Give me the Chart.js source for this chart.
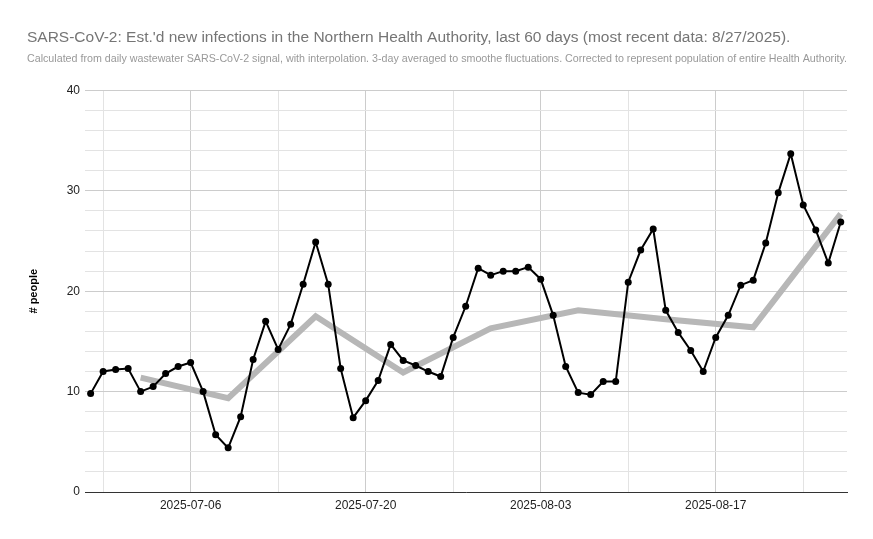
<!DOCTYPE html>
<html>
<head>
<meta charset="utf-8">
<script src="https://cdn.jsdelivr.net/npm/chart.js@4"></script>
<style>
  html, body { margin: 0; padding: 0; background: #fff; }
  #wrap { width: 873px; height: 539px; }
</style>
</head>
<body>
<div id="wrap"><canvas id="infectionsChart"></canvas></div>
<script>
// ===== DATA =====
// one entry per day, 2025-06-28 .. 2025-08-27
const dates = [
    '2025-06-28', '2025-06-29', '2025-06-30', '2025-07-01', '2025-07-02', '2025-07-03', '2025-07-04',
    '2025-07-05', '2025-07-06', '2025-07-07', '2025-07-08', '2025-07-09', '2025-07-10', '2025-07-11',
    '2025-07-12', '2025-07-13', '2025-07-14', '2025-07-15', '2025-07-16', '2025-07-17', '2025-07-18',
    '2025-07-19', '2025-07-20', '2025-07-21', '2025-07-22', '2025-07-23', '2025-07-24', '2025-07-25',
    '2025-07-26', '2025-07-27', '2025-07-28', '2025-07-29', '2025-07-30', '2025-07-31', '2025-08-01',
    '2025-08-02', '2025-08-03', '2025-08-04', '2025-08-05', '2025-08-06', '2025-08-07', '2025-08-08',
    '2025-08-09', '2025-08-10', '2025-08-11', '2025-08-12', '2025-08-13', '2025-08-14', '2025-08-15',
    '2025-08-16', '2025-08-17', '2025-08-18', '2025-08-19', '2025-08-20', '2025-08-21', '2025-08-22',
    '2025-08-23', '2025-08-24', '2025-08-25', '2025-08-26', '2025-08-27'
];

// estimated new infections per day (black line)
const dailyInfections = [
    9.8, 12.0, 12.2, 12.3, 10.0, 10.5, 11.8, 12.5, 12.9, 10.0,
    5.7, 4.4, 7.5, 13.2, 17.0, 14.2, 16.7, 20.7, 24.9, 20.7,
    12.3, 7.4, 9.1, 11.1, 14.7, 13.1, 12.6, 12.0, 11.5, 15.4,
    18.5, 22.3, 21.6, 22.0, 22.0, 22.4, 21.2, 17.6, 12.5, 9.9,
    9.7, 11.0, 11.0, 20.9, 24.1, 26.2, 18.1, 15.9, 14.1, 12.0,
    15.4, 17.6, 20.6, 21.1, 24.8, 29.8, 33.7, 28.6, 26.1, 22.8,
    26.9
];

// weekly trend (grey line)
const weeklyDates = ['2025-07-02', '2025-07-09', '2025-07-16', '2025-07-23', '2025-07-30',
                     '2025-08-06', '2025-08-13', '2025-08-20', '2025-08-27'];
const weeklyTrend = [11.4, 9.35, 17.5, 11.9, 16.3, 18.1, 17.2, 16.4, 27.7];

// gridlines / labels on the x axis
const gridDates = ['2025-06-29', '2025-07-06', '2025-07-13', '2025-07-20', '2025-07-27',
                   '2025-08-03', '2025-08-10', '2025-08-17', '2025-08-24'];
const labelDates = ['2025-07-06', '2025-07-20', '2025-08-03', '2025-08-17'];

const yTicks = [0, 10, 20, 30, 40];

const FONT = "'Liberation Sans', Arial, sans-serif";

document.addEventListener('DOMContentLoaded', function() {
    initChart();
});

function dayIndex(date) {
    return dates.indexOf(date);
}

function initChart() {
    const ctx = document.getElementById('infectionsChart').getContext('2d');

    const dailyPoints = dailyInfections.map((v, i) => ({ x: i, y: v }));
    const weeklyPoints = weeklyTrend.map((v, i) => ({ x: dayIndex(weeklyDates[i]), y: v }));

    new Chart(ctx, {
        type: 'line',
        data: {
            datasets: [{
                label: 'Daily',
                data: dailyPoints,
                borderColor: '#000000',
                backgroundColor: '#000000',
                borderWidth: 2,
                pointRadius: 3.5,
                pointBorderWidth: 0,
                tension: 0,
                order: 1
            }, {
                label: 'Trend',
                data: weeklyPoints,
                borderColor: '#b7b7b7',
                borderWidth: 6,
                pointRadius: 0,
                tension: 0,
                borderJoinStyle: 'miter',
                order: 2
            }]
        },
        options: {
            responsive: true,
            maintainAspectRatio: false,
            animation: false,
            layout: {
                padding: { left: 27, right: 26, top: 0, bottom: 0 }
            },
            plugins: {
                legend: { display: false },
                tooltip: { enabled: false },
                title: {
                    display: true,
                    align: 'start',
                    text: "SARS-CoV-2: Est.'d new infections in the Northern Health Authority, last 60 days (most recent data: 8/27/2025).",
                    color: '#757575',
                    font: { family: FONT, size: 15.5, weight: 'normal' },
                    padding: { top: 28, bottom: 6 }
                },
                subtitle: {
                    display: true,
                    align: 'start',
                    text: 'Calculated from daily wastewater SARS-CoV-2 signal, with interpolation. 3-day averaged to smoothe fluctuations. Corrected to represent population of entire Health Authority.',
                    color: '#999999',
                    font: { family: FONT, size: 10.7, weight: 'normal' },
                    padding: { top: 0, bottom: 25 }
                }
            },
            scales: {
                x: {
                    type: 'linear',
                    min: -0.45,
                    max: 60.5,
                    afterBuildTicks: function(scale) {
                        scale.ticks = gridDates.map(d => ({ value: dayIndex(d) }));
                    },
                    afterFit: function(scale) {
                        scale.height = 47;
                    },
                    ticks: {
                        autoSkip: false,
                        maxRotation: 0,
                        padding: 6,
                        color: '#222222',
                        font: { family: FONT, size: 12 },
                        callback: function(value) {
                            const d = dates[value];
                            return labelDates.includes(d) ? d : '';
                        }
                    },
                    grid: {
                        drawTicks: false,
                        color: function(c) {
                            if (!c.tick) return '#e0e0e0';
                            return labelDates.includes(dates[c.tick.value]) ? '#cccccc' : '#e3e3e3';
                        }
                    },
                    border: { display: true, color: '#333333', width: 1 }
                },
                y: {
                    min: 0,
                    max: 40,
                    afterFit: function(scale) {
                        scale.width = 58;
                    },
                    ticks: {
                        stepSize: 2,
                        padding: 5,
                        color: '#222222',
                        font: { family: FONT, size: 12 },
                        callback: function(value) {
                            return yTicks.includes(value) ? value : '';
                        }
                    },
                    grid: {
                        drawTicks: false,
                        color: function(c) {
                            if (!c.tick) return '#e3e3e3';
                            return yTicks.includes(c.tick.value) ? '#cccccc' : '#e3e3e3';
                        }
                    },
                    border: { display: false },
                    title: {
                        display: true,
                        text: '# people',
                        color: '#000000',
                        font: { family: FONT, size: 11, weight: 'bold' },
                        padding: { top: 0, bottom: 0 }
                    }
                }
            }
        }
    });
}
</script>
</body>
</html>
